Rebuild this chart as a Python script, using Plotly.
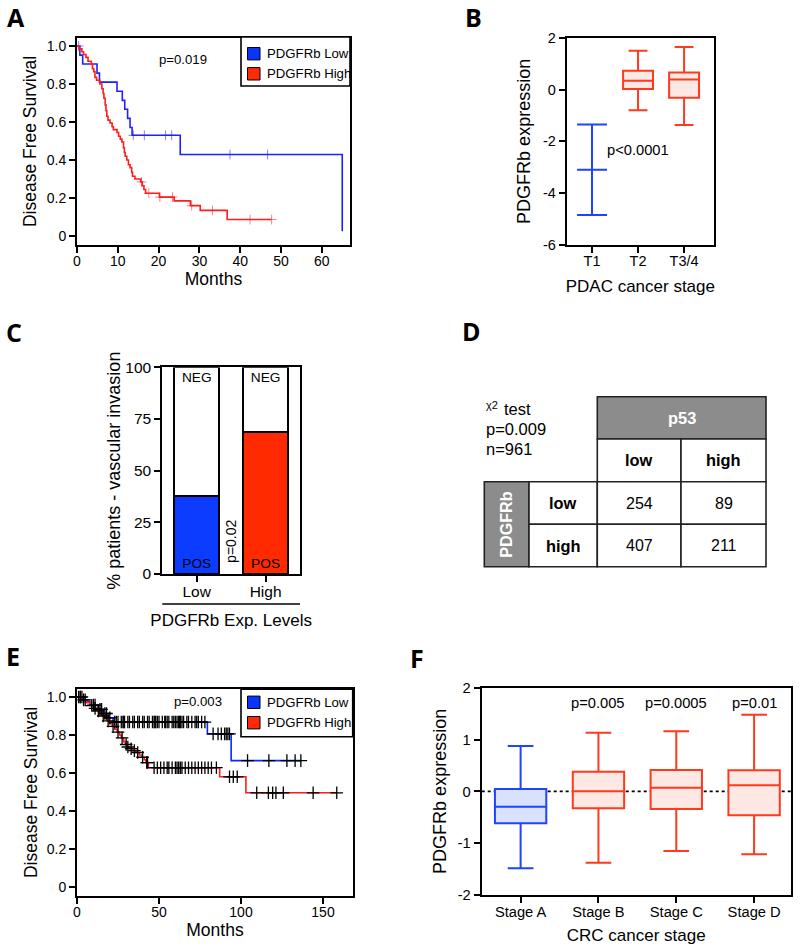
import plotly.graph_objects as go

# ======================= DATA =======================
# ---- Panel A: PDAC disease-free survival (Kaplan-Meier) ----
a_low_event_months = [0.7, 1.4, 4.9, 5.5, 9.8, 11.1, 11.7, 12.4, 13.0, 13.5, 25.3, 65.0]
a_low_survival = [0.952, 0.905, 0.857, 0.810, 0.762, 0.714, 0.667, 0.619, 0.571, 0.530, 0.429, 0.025]
a_low_last_month = 65.0
a_low_censored_months = [0.4, 13.8, 16.5, 21.7, 23.2, 37.5, 46.7]

a_high_event_months = [0.5, 1.2, 1.6, 2.2, 2.7, 3.5, 3.8, 4.1, 4.4, 4.8, 5.6, 6.1, 6.4, 6.6,
                       6.9, 7.1, 7.3, 7.6, 8.1, 8.6, 8.9, 9.8, 10.2, 10.6, 11.0, 11.4, 11.6,
                       11.8, 12.2, 12.6, 13.0, 13.4, 13.6, 14.2, 15.6, 16.0, 16.4, 16.8, 20.2,
                       23.8, 27.8, 30.2, 36.8]
a_high_survival = [0.985, 0.970, 0.955, 0.940, 0.920, 0.905, 0.880, 0.865, 0.835, 0.820, 0.800,
                   0.775, 0.750, 0.725, 0.690, 0.660, 0.630, 0.610, 0.595, 0.575, 0.560, 0.545,
                   0.525, 0.510, 0.495, 0.465, 0.440, 0.420, 0.400, 0.375, 0.360, 0.335, 0.315,
                   0.300, 0.285, 0.265, 0.245, 0.225, 0.205, 0.185, 0.160, 0.135, 0.087]
a_high_last_month = 47.7
a_high_censored_months = [15.8, 17.6, 20.3, 23.4, 28.1, 33.2, 42.4, 47.7]
a_pvalue = "p=0.019"

# ---- Panel B: PDGFRb expression by PDAC stage ----
b_stages = ["T1", "T2", "T3/4"]
b_lowerfence = [-4.84, -0.80, -1.37]
b_q1 = [-3.10, 0.02, -0.315]
b_median = [-3.10, 0.34, 0.39]
b_q3 = [-3.10, 0.727, 0.66]
b_upperfence = [-1.35, 1.50, 1.64]
b_pvalue = "p<0.0001"

# ---- Panel C: vascular invasion ----
c_levels = ["Low", "High"]
c_pos_pct = [37.7, 68.7]
c_neg_pct = [62.3, 31.3]
c_pvalue = "p=0.02"

# ---- Panel D: contingency table ----
d_p53_levels = ["low", "high"]
d_pdgfrb_levels = ["low", "high"]
d_counts = [[254, 89], [407, 211]]
d_test_symbol = "χ2"
d_test_name = "test"
d_stats = ["p=0.009", "n=961"]

# ---- Panel E: CRC disease-free survival (Kaplan-Meier) ----
e_low_event_months = [4.9, 7.9, 13.0, 16.0, 19.0, 22.0, 79.5, 94.0]
e_low_survival = [0.975, 0.957, 0.935, 0.913, 0.890, 0.868, 0.806, 0.665]
e_low_last_month = 137.0
e_low_censored_months = [2, 3, 10, 11, 14, 15, 17, 18, 20, 23, 24, 25, 27, 28, 28.5, 29, 31, 32,
                         34, 35, 37, 38, 40, 41, 43, 44, 46, 47, 47.5, 48, 49, 50, 52, 53.5, 54,
                         55, 56, 58, 59, 60, 61, 62, 62.5, 63, 64, 65, 67, 68, 70, 72, 73, 74,
                         76, 78, 83, 86, 88, 90, 91, 92, 93, 104, 117, 128, 133, 136.5]
e_high_event_months = [3, 6, 8, 10, 12, 14, 15.5, 17, 18.5, 20, 21.5, 23, 24.5, 26, 27, 28.5,
                       29.5, 30.5, 32, 34, 36, 38, 39.5, 41, 42, 43.5, 87, 103]
e_high_survival = [0.985, 0.970, 0.955, 0.940, 0.927, 0.913, 0.900, 0.888, 0.874, 0.860, 0.845,
                   0.830, 0.815, 0.800, 0.785, 0.765, 0.750, 0.737, 0.728, 0.718, 0.708, 0.695,
                   0.683, 0.670, 0.655, 0.628, 0.580, 0.496]
e_high_last_month = 158.5
e_high_censored_months = [1, 2, 4, 5, 9, 11, 13, 16, 19, 22, 25, 27.5, 30, 31, 33, 35, 37, 40,
                          42.5, 43, 47, 49, 51, 53, 55, 56, 58, 60, 61, 62, 63, 64, 66, 68, 70,
                          72, 74, 76, 78, 80, 82, 85, 93, 95.3, 97.7, 109.6, 116.7, 119.3,
                          121.3, 125.8, 144, 158.4]
e_pvalue = "p=0.003"

# ---- Panel F: PDGFRb expression by CRC stage ----
f_stages = ["Stage A", "Stage B", "Stage C", "Stage D"]
f_lowerfence = [-1.486, -1.376, -1.15, -1.215]
f_q1 = [-0.617, -0.328, -0.34, -0.463]
f_median = [-0.296, 0.0, 0.07, 0.12]
f_q3 = [0.045, 0.38, 0.41, 0.405]
f_upperfence = [0.875, 1.13, 1.158, 1.48]
f_pvalues = ["", "p=0.005", "p=0.0005", "p=0.01"]

legend_names = ["PDGFRb Low", "PDGFRb High"]

# ======================= STYLE / LAYOUT =======================
W, H = 800, 951
FONT = "Liberation Sans, Arial, Helvetica, sans-serif"
BOLD_FONT = "Open Sans, Liberation Sans, Arial, sans-serif"
KM_BLUE = "#2020ff"
KM_RED = "#ff1c1c"
LEG_BLUE = "#0a33ff"
LEG_RED = "#ff2a0a"
BOX_BLUE = "#1e44ff"
BOX_RED = "#ff3a1c"
FILL_BLUE = "#d9e2fc"
FILL_RED = "#fde8e4"
BAR_BLUE = "#0b3cff"
BAR_RED = "#ff2a00"
GRAY = "#8c8c8c"


def px(x):
    return x / W


def py(y):
    return 1 - y / H


def km_path(times, surv, last):
    xs = [0.0] + list(times) + [last]
    ys = [1.0] + list(surv) + [surv[-1]]
    return xs, ys


def surv_at(t, times, surv):
    s = 1.0
    for tt, ss in zip(times, surv):
        if tt <= t:
            s = ss
    return s


fig = go.Figure()

# ---------- Panel A ----------
for times, surv, last, cens, col in [
    (a_low_event_months, a_low_survival, a_low_last_month, a_low_censored_months, KM_BLUE),
    (a_high_event_months, a_high_survival, a_high_last_month, a_high_censored_months, KM_RED),
]:
    xs, ys = km_path(times, surv, last)
    fig.add_trace(go.Scatter(x=xs, y=ys, mode="lines", line=dict(color=col, width=1.6, shape="hv"),
                             xaxis="x", yaxis="y", hoverinfo="skip"))
    fig.add_trace(go.Scatter(x=cens, y=[surv_at(t, times, surv) for t in cens], mode="markers",
                             marker=dict(symbol="cross-thin", size=7, line=dict(color=col, width=1)),
                             opacity=0.55, xaxis="x", yaxis="y", hoverinfo="skip"))

# ---------- Panel B ----------
fig.add_trace(go.Box(x=b_stages[:1], q1=b_q1[:1], median=b_median[:1], q3=b_q3[:1],
                     lowerfence=b_lowerfence[:1], upperfence=b_upperfence[:1],
                     line=dict(color=BOX_BLUE, width=2), fillcolor="rgba(0,0,0,0)",
                     width=0.65, whiskerwidth=1.0, boxpoints=False, xaxis="x2", yaxis="y2"))
fig.add_trace(go.Box(x=b_stages[1:], q1=b_q1[1:], median=b_median[1:], q3=b_q3[1:],
                     lowerfence=b_lowerfence[1:], upperfence=b_upperfence[1:],
                     line=dict(color=BOX_RED, width=2), fillcolor=FILL_RED,
                     width=0.65, whiskerwidth=0.63, boxpoints=False, xaxis="x2", yaxis="y2"))

# ---------- Panel C ----------
fig.add_trace(go.Bar(x=c_levels, y=c_pos_pct, marker=dict(color=[BAR_BLUE, BAR_RED], line=dict(color="black", width=2)),
                     width=0.66, text=["POS", "POS"], textposition="inside", insidetextanchor="start",
                     textfont=dict(family=FONT, size=13.7, color="black"), xaxis="x3", yaxis="y3",
                     hoverinfo="skip"))
fig.add_trace(go.Bar(x=c_levels, y=c_neg_pct, marker=dict(color="white", line=dict(color="black", width=2)),
                     width=0.66, text=["NEG", "NEG"], textposition="inside", insidetextanchor="end",
                     textfont=dict(family=FONT, size=13.7, color="black"), xaxis="x3", yaxis="y3",
                     hoverinfo="skip"))

# ---------- Panel E ----------
for times, surv, last, col in [
    (e_low_event_months, e_low_survival, e_low_last_month, "#0a28ff"),
    (e_high_event_months, e_high_survival, e_high_last_month, "#ff1a1a"),
]:
    xs, ys = km_path(times, surv, last)
    fig.add_trace(go.Scatter(x=xs, y=ys, mode="lines", line=dict(color=col, width=1.6, shape="hv"),
                             xaxis="x4", yaxis="y4", hoverinfo="skip"))
for times, surv, cens in [
    (e_low_event_months, e_low_survival, e_low_censored_months),
    (e_high_event_months, e_high_survival, e_high_censored_months),
]:
    fig.add_trace(go.Scatter(x=cens, y=[surv_at(t, times, surv) for t in cens], mode="markers",
                             marker=dict(symbol="cross-thin", size=9, line=dict(color="black", width=1.3)),
                             xaxis="x4", yaxis="y4", hoverinfo="skip"))

# ---------- Panel F ----------
fig.add_trace(go.Box(x=f_stages[:1], q1=f_q1[:1], median=f_median[:1], q3=f_q3[:1],
                     lowerfence=f_lowerfence[:1], upperfence=f_upperfence[:1],
                     line=dict(color=BOX_BLUE, width=2), fillcolor=FILL_BLUE,
                     width=0.66, whiskerwidth=0.5, boxpoints=False, xaxis="x5", yaxis="y5"))
fig.add_trace(go.Box(x=f_stages[1:], q1=f_q1[1:], median=f_median[1:], q3=f_q3[1:],
                     lowerfence=f_lowerfence[1:], upperfence=f_upperfence[1:],
                     line=dict(color=BOX_RED, width=2), fillcolor=FILL_RED,
                     width=0.66, whiskerwidth=0.5, boxpoints=False, xaxis="x5", yaxis="y5"))


# ======================= AXES =======================
def ax(**kw):
    d = dict(showline=True, linecolor="black", linewidth=2, mirror=True, ticks="outside",
             ticklen=6, tickwidth=2, tickcolor="black", showgrid=False, zeroline=False,
             automargin=False, tickfont=dict(family=FONT, size=14, color="black"), fixedrange=True)
    d.update(kw)
    return d


def xax(**kw):
    return ax(ticklabelstandoff=-4, **kw)


def ttl(text, standoff, size=17.5):
    return dict(text=text, standoff=standoff, font=dict(family=FONT, size=size, color="black"))


km_yticks = [0, 0.2, 0.4, 0.6, 0.8, 1.0]
km_yticktext = ["0", "0.2", "0.4", "0.6", "0.8", "1.0"]

fig.update_layout(
    template="none",
    width=W, height=H, margin=dict(l=0, r=0, t=0, b=0, pad=0), autosize=False,
    paper_bgcolor="white", plot_bgcolor="white", barmode="stack", boxmode="overlay",
    showlegend=False,
    font=dict(family=FONT, color="black"),
    # A
    xaxis=xax(domain=[px(77), px(350)], range=[0, 66.9], tickvals=[0, 10, 20, 30, 40, 50, 60],
              anchor="y", title=ttl("Months", 5)),
    yaxis=ax(domain=[py(245), py(38)], range=[-0.047, 1.042], tickvals=km_yticks, ticktext=km_yticktext,
             anchor="x", title=ttl("Disease Free Survival", 6)),
    # B
    xaxis2=xax(domain=[px(566.7), px(714)], range=[-0.55, 2.65], type="category",
               categoryorder="array", categoryarray=b_stages, anchor="y2",
               tickfont=dict(family=FONT, size=14.5, color="black"), title=ttl("PDAC cancer stage", 12, 17)),
    yaxis2=ax(domain=[py(245), py(37.7)], range=[-6, 2], tickvals=[-6, -4, -2, 0, 2],
              ticktext=["-6", "-4", "-2", "0", "2"], anchor="x2",
              tickfont=dict(family=FONT, size=14.5, color="black"), title=ttl("PDGFRb expression", 8, 18)),
    # C
    xaxis3=xax(domain=[px(162.3), px(300)], range=[-0.5, 1.5], type="category",
               categoryorder="array", categoryarray=c_levels, anchor="y3",
               tickfont=dict(family=FONT, size=15.5, color="black"), title=ttl("PDGFRb Exp. Levels", 16, 17)),
    yaxis3=ax(domain=[py(574), py(367.3)], range=[0, 100], tickvals=[0, 25, 50, 75, 100], anchor="x3",
              tickfont=dict(family=FONT, size=15.5, color="black"),
              title=ttl("% patients - vascular invasion", 0, 18)),
    # E
    xaxis4=xax(domain=[px(77), px(353)], range=[0, 168.3], tickvals=[0, 50, 100, 150], anchor="y4",
               title=ttl("Months", 0)),
    yaxis4=ax(domain=[py(896), py(689)], range=[-0.047, 1.042], tickvals=km_yticks, ticktext=km_yticktext,
              anchor="x4", title=ttl("Disease Free Survival", 5)),
    # F
    xaxis5=xax(domain=[px(481.7), px(790.7)], range=[-0.5, 3.47], type="category",
               categoryorder="array", categoryarray=f_stages, anchor="y5",
               tickfont=dict(family=FONT, size=14.7, color="black"), title=ttl("CRC cancer stage", 10, 17)),
    yaxis5=ax(domain=[py(895), py(687.7)], range=[-2, 2], tickvals=[-2, -1, 0, 1, 2],
              ticktext=["-2", "-1", "0", "1", "2"], anchor="x5",
              tickfont=dict(family=FONT, size=14.7, color="black"), title=ttl("PDGFRb expression", 6, 18)),
)

annotations = []
shapes = []

# panel letters
for letter, (lx, ly) in zip("ABCDEF", [(15.5, 17), (473, 17.5), (14.5, 332), (471.5, 330.5), (13, 656), (417, 658)]):
    annotations.append(dict(text="<b>%s</b>" % letter, x=px(lx), y=py(ly), xref="paper", yref="paper",
                            showarrow=False, xanchor="center", yanchor="middle",
                            font=dict(family=BOLD_FONT, size=25, color="black")))

# p-values
annotations.append(dict(text=a_pvalue, x=25.9, y=0.93, xref="x", yref="y", showarrow=False,
                        font=dict(family=FONT, size=13.2, color="black")))
annotations.append(dict(text=b_pvalue, x="T2", y=-2.33, xref="x2", yref="y2", showarrow=False,
                        font=dict(family=FONT, size=14.7, color="black")))
annotations.append(dict(text=c_pvalue, x=0.5, y=15.6, xref="x3", yref="y3", showarrow=False, textangle=-90,
                        font=dict(family=FONT, size=14, color="black")))
annotations.append(dict(text=e_pvalue, x=73.6, y=0.975, xref="x4", yref="y4", showarrow=False,
                        font=dict(family=FONT, size=13.2, color="black")))
for st, pv in zip(f_stages, f_pvalues):
    if pv:
        annotations.append(dict(text=pv, x=st, y=1.71, xref="x5", yref="y5", showarrow=False,
                                font=dict(family=FONT, size=14.7, color="black")))

# dotted zero line in F
shapes.append(dict(type="line", xref="x5 domain", yref="y5", x0=0, x1=1, y0=0, y1=0,
                   line=dict(color="black", width=1.6, dash="dot"), layer="below"))
# bracket line under C
shapes.append(dict(type="line", xref="x3 domain", yref="paper", x0=0, x1=1, y0=py(604), y1=py(604),
                   line=dict(color="black", width=1.6)))


# ---------- legends (boxed keys, as in the reference) ----------
def legend_box(x0, x1, y0, y1, centers, names, colors):
    shapes.append(dict(type="rect", xref="paper", yref="paper", x0=px(x0), x1=px(x1), y0=py(y1), y1=py(y0),
                       fillcolor="white", line=dict(color="black", width=1.6), layer="above"))
    for yc, name, col in zip(centers, names, colors):
        shapes.append(dict(type="rect", xref="paper", yref="paper", x0=px(x0 + 6.5), x1=px(x0 + 19),
                           y0=py(yc + 6.2), y1=py(yc - 6.2), fillcolor=col,
                           line=dict(color="black", width=1), layer="above"))
        annotations.append(dict(text=name, x=px(x0 + 24), y=py(yc), xref="paper", yref="paper",
                                showarrow=False, xanchor="left", yanchor="middle",
                                font=dict(family=FONT, size=13.2, color="black")))


legend_box(241, 350, 37, 86, [53.7, 73.8], legend_names, [LEG_BLUE, LEG_RED])
legend_box(241, 352.7, 689.3, 736.7, [702.3, 722.7], legend_names, [LEG_BLUE, LEG_RED])

# ---------- Panel D table ----------
tbl_x = [484.3, 529.0, 597.3, 681.0, 766.0]
tbl_y = [396.7, 439.0, 481.7, 524.3, 566.7]


def cell(x0, x1, y0, y1, fill, text, color="black", size=16, angle=0):
    shapes.append(dict(type="rect", xref="paper", yref="paper", x0=px(x0), x1=px(x1), y0=py(y1), y1=py(y0),
                       fillcolor=fill, line=dict(color="#222", width=1.6), layer="above"))
    annotations.append(dict(text=text, x=px((x0 + x1) / 2), y=py((y0 + y1) / 2), xref="paper",
                            yref="paper", showarrow=False, xanchor="center", yanchor="middle",
                            textangle=angle, font=dict(family=FONT, size=size, color=color)))


cell(tbl_x[2], tbl_x[4], tbl_y[0], tbl_y[1], GRAY, "<b>p53</b>", "white", 16.4)
for j, lab in enumerate(d_p53_levels):
    cell(tbl_x[2 + j], tbl_x[3 + j], tbl_y[1], tbl_y[2], "white", "<b>%s</b>" % lab, "black", 16.4)
cell(tbl_x[0], tbl_x[1], tbl_y[2], tbl_y[4], GRAY, "<b>PDGFRb</b>", "white", 16.2, -90)
for i, lab in enumerate(d_pdgfrb_levels):
    cell(tbl_x[1], tbl_x[2], tbl_y[2 + i], tbl_y[3 + i], "white", "<b>%s</b>" % lab, "black", 16.4)
    for j in range(2):
        cell(tbl_x[2 + j], tbl_x[3 + j], tbl_y[2 + i], tbl_y[3 + i], "white", str(d_counts[i][j]), "black", 16)

# chi-square test statistics (small raised symbol, then the text lines)
annotations.append(dict(text=d_test_symbol, x=px(484), y=py(405), xref="paper", yref="paper",
                        showarrow=False, xanchor="left", yanchor="middle",
                        font=dict(family=FONT, size=11, color="black")))
annotations.append(dict(text=d_test_name, x=px(501.5), y=py(408.7), xref="paper", yref="paper",
                        showarrow=False, xanchor="left", yanchor="middle",
                        font=dict(family=FONT, size=16.5, color="black")))
for k, line in enumerate(d_stats):
    annotations.append(dict(text=line, x=px(484), y=py(428.7 + 20 * k), xref="paper", yref="paper",
                            showarrow=False, xanchor="left", yanchor="middle",
                            font=dict(family=FONT, size=16.5, color="black")))

fig.update_layout(annotations=annotations, shapes=shapes)
# remove the browser's default 8px page margin so the 800x951 figure fills the window exactly
fig.write_html("out.html", config={"displayModeBar": False, "staticPlot": True},
               post_script="document.body.style.margin='0px';")
